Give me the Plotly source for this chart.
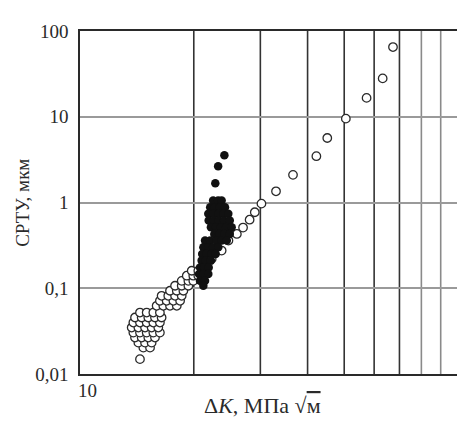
import plotly.graph_objects as go
import math

# ---- data ----
open_x = [14.71, 15.32,
          14.27, 14.86, 15.47,
          13.98, 14.56, 15.16, 15.79,
          13.84, 14.41, 15.01, 15.63, 16.27,
          13.70, 14.27, 14.86, 15.47, 16.11,
          13.84, 14.41, 15.01, 15.63, 16.27,
          13.98, 14.56, 15.16, 15.79, 16.44,
          14.41, 15.01, 15.63, 16.27,
          15.95, 16.61, 17.30, 18.03,
          16.27, 16.95, 17.66, 18.40,
          16.44, 17.12, 17.84, 18.58,
          17.30, 18.03, 18.77,
          17.84, 18.58, 19.35,
          18.58, 19.35, 19.94,
          19.16, 19.94, 20.56,
          19.75, 20.56, 21.20,
          14.41,
          22.3, 23.7, 24.7, 26.0, 27.0, 28.1, 29.0, 30.2,
          33.0, 36.6, 42.2, 45.1, 50.5, 57.3, 63.2, 67.3]
open_y = [0.0203, 0.0203,
          0.0232, 0.0232, 0.0232,
          0.0266, 0.0266, 0.0266, 0.0266,
          0.0304, 0.0304, 0.0304, 0.0304, 0.0304,
          0.0348, 0.0348, 0.0348, 0.0348, 0.0348,
          0.0398, 0.0398, 0.0398, 0.0398, 0.0398,
          0.0456, 0.0456, 0.0456, 0.0456, 0.0456,
          0.0521, 0.0521, 0.0521, 0.0521,
          0.0624, 0.0624, 0.0624, 0.0624,
          0.0714, 0.0714, 0.0714, 0.0714,
          0.0817, 0.0817, 0.0817, 0.0817,
          0.0935, 0.0935, 0.0935,
          0.107, 0.107, 0.107,
          0.122, 0.122, 0.122,
          0.140, 0.140, 0.140,
          0.160, 0.160, 0.160,
          0.0149,
          0.22, 0.275, 0.36, 0.43, 0.51, 0.63, 0.77, 0.97,
          1.35, 2.1, 3.47, 5.65, 9.5, 16.6, 28.0, 65.0]

filled_x = [24.1, 23.2, 22.8,
            22.5, 23.2, 23.7,
            22.1, 22.75, 23.45, 24.19,
            21.85, 22.5, 23.22, 23.95, 24.68,
            21.9, 22.6, 23.3, 24.05, 24.9,
            22.2, 22.9, 23.6, 24.35, 25.19,
            22.66, 23.35, 24.1, 24.9,
            21.42, 22.1, 23.0, 23.71, 24.45,
            21.2, 21.85, 22.5, 23.22,
            21.05, 21.6, 22.3, 22.85,
            20.98, 21.5, 22.2,
            20.77, 21.3, 21.9,
            20.65, 21.2, 21.85,
            20.77, 21.42,
            21.2]
filled_y = [3.55, 2.64, 1.68,
            1.055, 1.055, 1.055,
            0.881, 0.881, 0.881, 0.881,
            0.738, 0.738, 0.738, 0.738, 0.738,
            0.615, 0.615, 0.615, 0.615, 0.615,
            0.514, 0.514, 0.514, 0.514, 0.514,
            0.43, 0.43, 0.43, 0.43,
            0.36, 0.36, 0.36, 0.36, 0.36,
            0.30, 0.30, 0.30, 0.30,
            0.251, 0.251, 0.251, 0.251,
            0.21, 0.21, 0.21,
            0.175, 0.175, 0.175,
            0.147, 0.147, 0.147,
            0.122, 0.122,
            0.107]

y_tickvals = [0.01, 0.1, 1, 10, 100]
y_ticktext = ["0,01", "0,1", "1", "10", "100"]
x_grid_dark = [20, 30, 40, 50, 60, 70]
x_grid_light = [80, 90]
x_labels = [(10, "10"), (100, "100")]

FONT = "Liberation Serif"
INK = "#2a2a2a"

fig = go.Figure()
fig.add_trace(go.Scatter(
    x=open_x, y=open_y, mode="markers",
    marker=dict(symbol="circle", size=8.5, color="white",
                line=dict(color=INK, width=1.3)),
    showlegend=False, cliponaxis=False))
fig.add_trace(go.Scatter(
    x=filled_x, y=filled_y, mode="markers",
    marker=dict(symbol="circle", size=8.5, color="#111111",
                line=dict(color="#111111", width=0)),
    showlegend=False, cliponaxis=False))

shapes = []
for gx in x_grid_dark:
    shapes.append(dict(type="line", xref="x", yref="paper",
                       x0=gx, x1=gx, y0=0, y1=1,
                       line=dict(color="#333333", width=1.6), layer="below"))
for gx in x_grid_light:
    shapes.append(dict(type="line", xref="x", yref="paper",
                       x0=gx, x1=gx, y0=0, y1=1,
                       line=dict(color="#8a8a8a", width=1.6), layer="below"))

annotations = []
for val, txt in x_labels:
    annotations.append(dict(
        x=math.log10(val), y=0, xref="x", yref="paper",
        text=txt, showarrow=False,
        xanchor="center" if val == 10 else "right",
        yanchor="top", xshift=7 if val == 10 else 0, yshift=-4,
        font=dict(family=FONT, size=19, color=INK)))
annotations.append(dict(
    x=0.485, y=-0.05, xref="paper", yref="paper",
    text="Δ<i>K</i>, МПа √<span style='text-decoration:overline'>м</span>",
    showarrow=False, xanchor="center", yanchor="top",
    font=dict(family=FONT, size=22, color=INK)))
annotations.append(dict(
    x=-0.153, y=0.5, xref="paper", yref="paper",
    text="СРТУ, мкм", textangle=-90,
    showarrow=False, xanchor="center", yanchor="middle",
    font=dict(family=FONT, size=19, color=INK)))

fig.update_layout(
    width=457, height=426,
    margin=dict(l=80, r=0, t=31, b=52),
    paper_bgcolor="white", plot_bgcolor="white",
    shapes=shapes, annotations=annotations,
    xaxis=dict(type="log", range=[1, 1 + 377 / 378],
               showgrid=False, zeroline=False,
               showticklabels=False, ticks="",
               showline=True, linecolor=INK, linewidth=1.6, mirror=True),
    yaxis=dict(type="log", range=[-2, 2],
               tickvals=y_tickvals, ticktext=y_ticktext,
               showgrid=True, gridcolor="#9a9a9a", gridwidth=2,
               zeroline=False, ticks="", ticklabelstandoff=6,
               tickfont=dict(family=FONT, size=19, color=INK),
               showline=True, linecolor=INK, linewidth=1.6, mirror=False),
)

fig.write_html("out.html")
